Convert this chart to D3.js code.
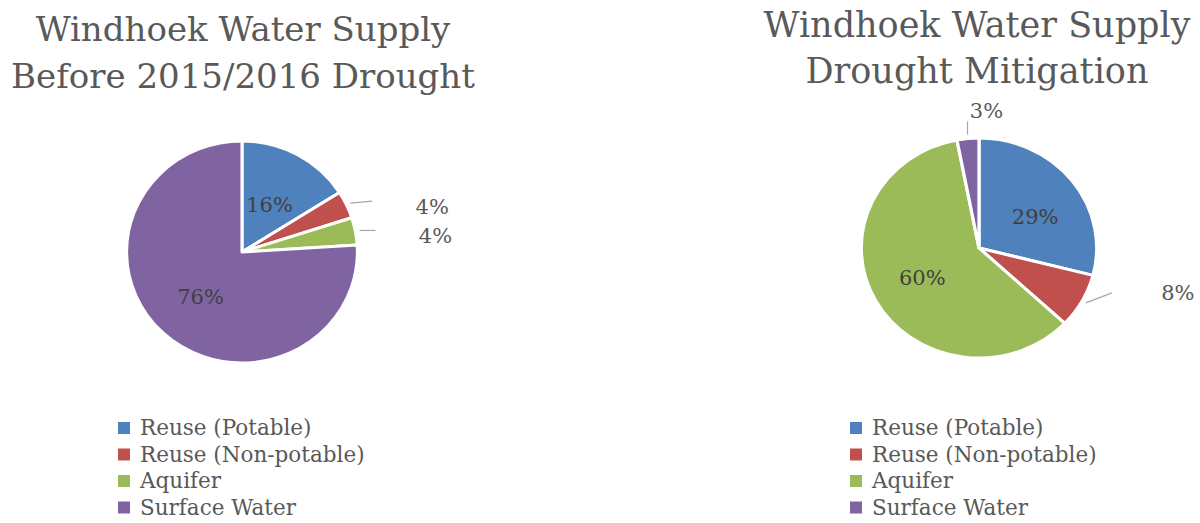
<!DOCTYPE html>
<html>
<head>
<meta charset="utf-8">
<script src="https://cdn.jsdelivr.net/npm/d3@7"></script>
<style>
  body { margin: 0; background: #fff; }
  svg { display: block; }
  text { font-family: "DejaVu Serif", serif; }
</style>
</head>
<body>
<div id="viz"></div>
<script>
// categories shared by both pies
var categories = ["Reuse (Potable)", "Reuse (Non-potable)", "Aquifer", "Surface Water"];
var colours = ["#4F81BD", "#C0504D", "#9BBB59", "#8064A2"];

// before the drought (percent)
var beforeValues = [16, 4, 4, 76];
var beforeTitle = ["Windhoek Water Supply", "Before 2015/2016 Drought"];

// drought mitigation (percent)
var afterValues = [29, 8, 60, 3];
var afterTitle = ["Windhoek Water Supply", "Drought Mitigation"];

var width = 1200, height = 523;

var svg = d3.select("#viz").append("svg")
    .attr("width", width)
    .attr("height", height);

/*
   draw one pie with its title, labels and legend
   opts holds the placement of each part
*/
function drawPie(values, title, opts) {
    var g = svg.append("g");

    // title, two lines
    g.selectAll(".title")
        .data(title)
        .enter()
        .append("text")
        .attr("x", opts.titleX)
        .attr("y", function(d, i) { return opts.titleY + i * opts.titleGap; })
        .attr("text-anchor", "middle")
        .attr("font-size", opts.titleSize + "px")
        .attr("fill", "#595959")
        .text(function(d) { return d; });

    var pie = d3.pie().sort(null).value(function(d) { return d; });
    var arcs = pie(values);
    var arc = d3.arc().innerRadius(0).outerRadius(opts.r);

    var pg = g.append("g")
        .attr("transform", "translate(" + opts.cx + "," + opts.cy + ") scale(" + opts.sx + ",1)");

    pg.selectAll("path")
        .data(arcs)
        .enter()
        .append("path")
        .attr("d", arc)
        .attr("fill", function(d, i) { return colours[i]; })
        .attr("stroke", "#fff")
        .attr("stroke-width", 3)
        .attr("stroke-linejoin", "round");

    // labels inside the big slices, leader lines for the small ones
    var inner = d3.arc().innerRadius(opts.r * 0.55).outerRadius(opts.r * 0.55);
    var lab = g.append("g").attr("transform", "translate(" + opts.cx + "," + opts.cy + ")");
    arcs.forEach(function(d, i) {
        var spec = opts.labels[i];
        var p;
        if (spec.inside) {
            p = inner.centroid(d);
            lab.append("text")
                .attr("x", p[0] * opts.sx + (spec.dx || 0))
                .attr("y", p[1] + (spec.dy || 0))
                .attr("text-anchor", "middle")
                .attr("dominant-baseline", "middle")
                .attr("font-size", "21px")
                .attr("fill", "#404040")
                .text(values[i] + "%");
        } else {
            var a = (d.startAngle + d.endAngle) / 2;
            var x0 = Math.sin(a) * (opts.r + 4) * opts.sx, y0 = -Math.cos(a) * (opts.r + 4);
            lab.append("line")
                .attr("x1", x0)
                .attr("y1", y0)
                .attr("x2", x0 + spec.lx)
                .attr("y2", y0 + spec.ly)
                .attr("stroke", "#a6a6a6")
                .attr("stroke-width", 1.2);
            lab.append("text")
                .attr("x", x0 + spec.tx)
                .attr("y", y0 + spec.ty)
                .attr("text-anchor", "middle")
                .attr("dominant-baseline", "middle")
                .attr("font-size", "21px")
                .attr("fill", "#595959")
                .text(values[i] + "%");
        }
    });

    // legend
    var lg = g.append("g")
        .attr("transform", "translate(" + opts.legX + "," + opts.legY + ")");
    var rows = lg.selectAll("g")
        .data(categories)
        .enter()
        .append("g")
        .attr("transform", function(d, i) { return "translate(0," + i * 26.5 + ")"; });
    rows.append("rect")
        .attr("x", 0)
        .attr("y", -6)
        .attr("width", 12)
        .attr("height", 12)
        .attr("fill", function(d, i) { return colours[i]; });
    rows.append("text")
        .attr("x", 22)
        .attr("y", 1)
        .attr("dominant-baseline", "middle")
        .attr("font-size", "21.5px")
        .attr("fill", "#595959")
        .text(function(d) { return d; });
}

drawPie(beforeValues, beforeTitle, {
    titleX: 243, titleY: 41, titleGap: 47, titleSize: 34,
    cx: 242, cy: 252, r: 111, sx: 1.04,
    labels: [
        {inside: true, dx: -3, dy: 8},
        {inside: false, lx: 22, ly: -2, tx: 82, ty: 5},
        {inside: false, lx: 16, ly: 0, tx: 76, ty: 7},
        {inside: true, dx: 2, dy: 2}
    ],
    legX: 118, legY: 428
});

drawPie(afterValues, afterTitle, {
    titleX: 977, titleY: 37, titleGap: 46, titleSize: 35,
    cx: 979, cy: 248, r: 110, sx: 1.07,
    labels: [
        {inside: true, dx: 5, dy: 8},
        {inside: false, lx: 26, ly: -10, tx: 92, ty: -8},
        {inside: true, dx: 0, dy: 2},
        {inside: false, lx: 0, ly: -13, tx: 19, ty: -22}
    ],
    legX: 850, legY: 428
});
</script>
</body>
</html>
